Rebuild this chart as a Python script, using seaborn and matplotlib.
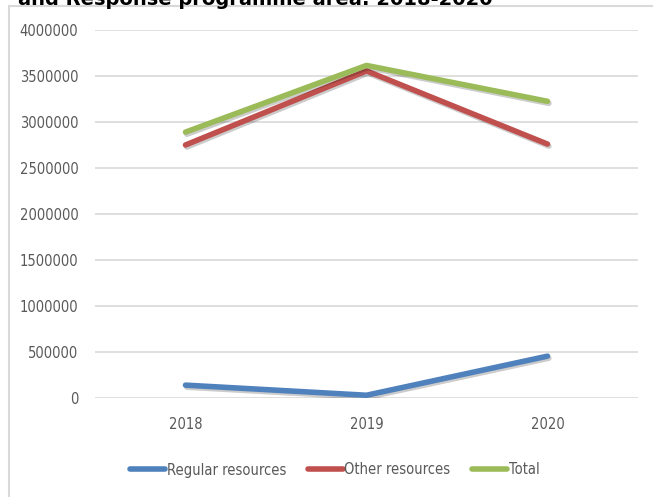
import matplotlib
matplotlib.use("Agg")
import matplotlib.pyplot as plt
import matplotlib.patheffects as pe
from matplotlib.patches import Rectangle
from matplotlib.lines import Line2D
from matplotlib import font_manager
import seaborn as sns
import pandas as pd

years = ["2018", "2019", "2020"]
regular = [140000, 30000, 455000]
other = [2750000, 3555000, 2760000]
total = [2890000, 3615000, 3225000]
series_names = ["Regular resources", "Other resources", "Total"]
colors = ["#4F81BD", "#C0504D", "#9BBB59"]
y_ticks = [0, 500000, 1000000, 1500000, 2000000, 2500000, 3000000, 3500000, 4000000]
title = "and Response programme area: 2018-2020"

rows = []
for name, vals in zip(series_names, [regular, other, total]):
    for i, (yr, v) in enumerate(zip(years, vals)):
        rows.append({"x": i, "year": yr, "value": v, "series": name})
df = pd.DataFrame(rows)

sns.set_theme(style="white")
plt.rcParams["font.family"] = ["DejaVu Sans"]

cond = None
for f in font_manager.fontManager.ttflist:
    if "Condensed" in f.fname and "DejaVuSans" in f.fname.replace(" ", "") and "Bold" not in f.fname and "Oblique" not in f.fname:
        cond = f.fname
        break
if cond is not None:
    lab_font = font_manager.FontProperties(fname=cond, size=10.5)
else:
    lab_font = font_manager.FontProperties(family="DejaVu Sans", size=9.5)

fig = plt.figure(figsize=(6.53, 4.97), dpi=100)
ax = fig.add_axes([95 / 653, 1 - 398 / 497, 543 / 653, 368 / 497])

fig.patches.append(Rectangle((9 / 653, -0.05), 1.0, 1 - 6 / 497 + 0.05,
                             transform=fig.transFigure, fill=False,
                             edgecolor="#D9D9D9", linewidth=1.5, zorder=0))

sns.lineplot(data=df, x="x", y="value", hue="series", hue_order=series_names,
             palette=colors, linewidth=4, ax=ax, legend=False, sort=False)
for line in ax.lines:
    line.set_solid_capstyle("round")
    line.set_solid_joinstyle("round")
    line.set_path_effects([pe.SimpleLineShadow(offset=(1, -1.5), alpha=0.2, shadow_color="black"),
                           pe.Normal()])

ax.set_xlim(-0.5, 2.5)
ax.set_ylim(0, 4000000)
ax.set_xticks(range(len(years)))
ax.set_xticklabels(years, fontproperties=lab_font)
ax.set_yticks(y_ticks)
ax.set_yticklabels([str(v) for v in y_ticks], fontproperties=lab_font)
ax.set_xlabel("")
ax.set_ylabel("")
ax.grid(axis="y", color="#D9D9D9", linewidth=1.2)
ax.set_axisbelow(True)
for s in ax.spines.values():
    s.set_visible(False)
ax.tick_params(axis="both", length=0, labelcolor="#595959")
ax.tick_params(axis="y", pad=12)
ax.tick_params(axis="x", pad=14)

handles = [Line2D([0], [0], color=c, linewidth=4, solid_capstyle="round") for c in colors]
leg = fig.legend(handles, series_names, loc="center", bbox_to_anchor=(335 / 653, 1 - 470 / 497),
                 ncol=3, frameon=False, prop=lab_font, labelcolor="#595959",
                 handlelength=2.4, handletextpad=0.1, columnspacing=1.5)

fig.text(18 / 653, 1 - 5 / 497, title, fontsize=14, fontweight="bold",
         family="DejaVu Sans", color="black", ha="left", va="baseline")

fig.savefig("out.png", dpi=100, facecolor="white")
